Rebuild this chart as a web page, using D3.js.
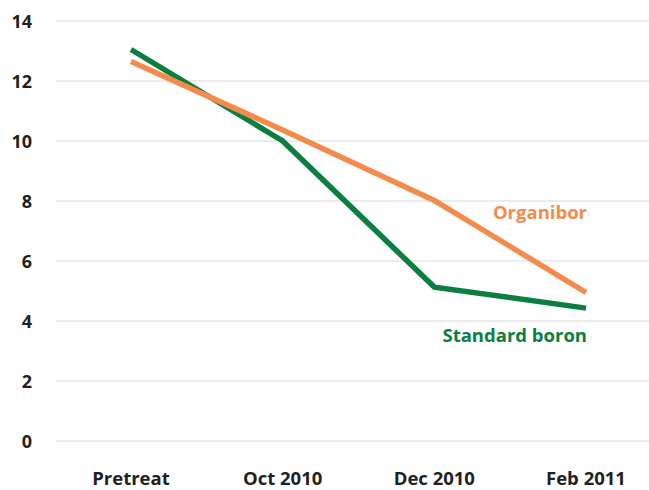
<!DOCTYPE html>
<html>
<head>
<meta charset="utf-8">
<script src="https://cdn.jsdelivr.net/npm/d3@7"></script>
<style>
  body { margin: 0; background: #fff; }
  text { font-family: "Open Sans", "Noto Sans", sans-serif; font-weight: 700; }
</style>
</head>
<body>
<div id="chart"></div>
<script>
// data
var categories = ["Pretreat", "Oct 2010", "Dec 2010", "Feb 2011"];
var organibor = [12.65, 10.37, 8.02, 4.95];
var standardBoron = [13.05, 10.0, 5.13, 4.43];
var yTicks = [0, 2, 4, 6, 8, 10, 12, 14];

var W = 649, H = 490;
var svg = d3.select("#chart").append("svg").attr("width", W).attr("height", H);

var x = d3.scalePoint().domain(categories).range([131, 586]);
var y = d3.scaleLinear().domain([0, 14]).range([441, 21]);

// gridlines
svg.append("g").selectAll("line").data(yTicks).enter().append("line")
    .attr("x1", 56).attr("x2", W)
    .attr("y1", function(d){ return y(d); }).attr("y2", function(d){ return y(d); })
    .attr("stroke", "#d9d9d9").attr("stroke-width", 1.2);

// y labels
svg.append("g").selectAll("text").data(yTicks).enter().append("text")
    .attr("x", 32).attr("y", function(d){ return y(d) + 6.5; })
    .attr("text-anchor", "end").attr("font-size", 18).attr("fill", "#231f20")
    .text(function(d){ return d; });

// x labels
svg.append("g").selectAll("text").data(categories).enter().append("text")
    .attr("x", function(d){ return x(d); }).attr("y", 485)
    .attr("text-anchor", "middle").attr("font-size", 18.5).attr("fill", "#231f20")
    .text(function(d){ return d; });

var line = d3.line()
    .x(function(d, i){ return x(categories[i]); })
    .y(function(d){ return y(d); });

var series = [
    {name: "Standard boron", values: standardBoron, color: "#0a7f40", lx: 587, ly: 342},
    {name: "Organibor", values: organibor, color: "#f58b4b", lx: 587, ly: 219}
];

series.forEach(function(s){
    svg.append("path").datum(s.values)
        .attr("d", line).attr("fill", "none")
        .attr("stroke", s.color).attr("stroke-width", 5.5)
        .attr("stroke-linejoin", "miter");
    svg.append("text")
        .attr("x", s.lx).attr("y", s.ly)
        .attr("text-anchor", "end").attr("font-size", 18.5).attr("fill", s.color)
        .text(s.name);
});
</script>
</body>
</html>
